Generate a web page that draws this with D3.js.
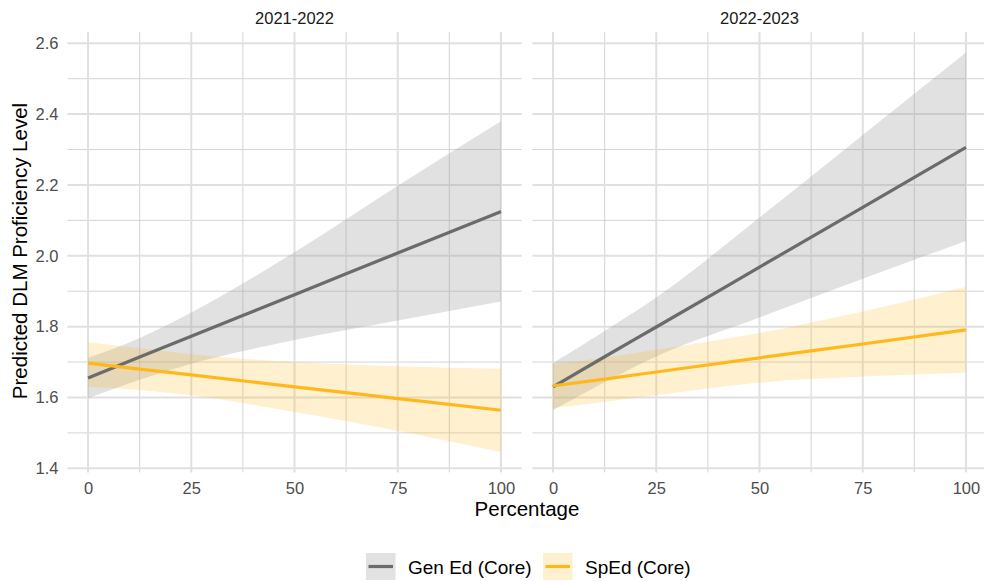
<!DOCTYPE html>
<html>
<head>
<meta charset="utf-8">
<script src="https://cdn.jsdelivr.net/npm/d3@7"></script>
<style>
  html, body { margin: 0; padding: 0; background: #ffffff; }
  svg { display: block; font-family: "Liberation Sans", Arial, Helvetica, sans-serif; }
</style>
</head>
<body>
<svg id="chart" width="984" height="581"></svg>
<script>
// ---------------- DATA ----------------
const panels = ["2021-2022", "2022-2023"];
const groups = ["Gen Ed (Core)", "SpEd (Core)"];
const xPoints = [0, 12.5, 25, 50, 75, 100];

// 2021-2022
const genFit21  = [1.655, 1.714, 1.773, 1.890, 2.008, 2.125];
const genLow21  = [1.598, 1.650, 1.695, 1.762, 1.817, 1.871];
const genHigh21 = [1.712, 1.768, 1.840, 2.010, 2.198, 2.380];
const spFit21   = [1.697, 1.680, 1.664, 1.630, 1.597, 1.564];
const spLow21   = [1.630, 1.621, 1.606, 1.559, 1.506, 1.446];
const spHigh21  = [1.756, 1.739, 1.722, 1.700, 1.688, 1.681];

// 2022-2023
const genFit22  = [1.630, 1.715, 1.799, 1.968, 2.137, 2.306];
const genLow22  = [1.565, 1.643, 1.716, 1.826, 1.935, 2.042];
const genHigh22 = [1.697, 1.788, 1.882, 2.108, 2.341, 2.574];
const spFit22   = [1.633, 1.652, 1.672, 1.712, 1.751, 1.791];
const spLow22   = [1.570, 1.588, 1.606, 1.642, 1.659, 1.670];
const spHigh22  = [1.694, 1.713, 1.735, 1.782, 1.843, 1.912];

const xTicks = [0, 25, 50, 75, 100];
const xMinor = [12.5, 37.5, 62.5, 87.5];
const yTicks = [1.4, 1.6, 1.8, 2.0, 2.2, 2.4, 2.6];
const yMinor = [1.5, 1.7, 1.9, 2.1, 2.3, 2.5];
const xTickLabels = ["0", "25", "50", "75", "100"];
const yTickLabels = ["1.4", "1.6", "1.8", "2.0", "2.2", "2.4", "2.6"];

// ---------------- STYLE ----------------
const lineColors = ["#6b6b6b", "#FFB81C"];
const ribbonColors = ["#999c99", "#FFB81C"];
const ribbonOpacity = [0.3, 0.21];
const keyFills = ["#e1e2e1", "#fff0cf"];

const svg = d3.select("#chart");

const panelData = [
  { title: panels[0], series: [
      { fit: genFit21, low: genLow21, high: genHigh21 },
      { fit: spFit21, low: spLow21, high: spHigh21 } ] },
  { title: panels[1], series: [
      { fit: genFit22, low: genLow22, high: genHigh22 },
      { fit: spFit22, low: spLow22, high: spHigh22 } ] }
];

const panelRanges = [[67.4, 521.6], [532.4, 986.6]];
const yTop = 32.1, yBottom = 472.4;
const y = d3.scaleLinear().domain([1.3885, 2.6315]).range([yBottom, yTop]);

panelData.forEach((p, pi) => {
  const x = d3.scaleLinear().domain([-5, 105]).range(panelRanges[pi]);
  const g = svg.append("g");
  const [x0, x1] = panelRanges[pi];

  // minor grid
  g.selectAll(".ymin").data(yMinor).join("line")
    .attr("x1", x0).attr("x2", x1)
    .attr("y1", d => y(d)).attr("y2", d => y(d))
    .attr("stroke", "#cfcfcf").attr("stroke-width", 0.9);
  g.selectAll(".xmin").data(xMinor).join("line")
    .attr("x1", d => x(d)).attr("x2", d => x(d))
    .attr("y1", yTop).attr("y2", yBottom)
    .attr("stroke", "#cfcfcf").attr("stroke-width", 0.9);
  // major grid
  g.selectAll(".ymaj").data(yTicks).join("line")
    .attr("x1", x0).attr("x2", x1)
    .attr("y1", d => y(d)).attr("y2", d => y(d))
    .attr("stroke", "#e0e0e0").attr("stroke-width", 2);
  g.selectAll(".xmaj").data(xTicks).join("line")
    .attr("x1", d => x(d)).attr("x2", d => x(d))
    .attr("y1", yTop).attr("y2", yBottom)
    .attr("stroke", "#e0e0e0").attr("stroke-width", 2);

  // ribbons
  p.series.forEach((s, si) => {
    const pts = xPoints.map((xv, i) => ({ x: xv, lo: s.low[i], hi: s.high[i] }));
    const area = d3.area().curve(d3.curveMonotoneX)
      .x(d => x(d.x)).y0(d => y(d.lo)).y1(d => y(d.hi));
    g.append("path").datum(pts).attr("d", area)
      .attr("fill", ribbonColors[si]).attr("fill-opacity", ribbonOpacity[si]);
  });
  // lines
  p.series.forEach((s, si) => {
    const pts = xPoints.map((xv, i) => ({ x: xv, v: s.fit[i] }));
    const line = d3.line().curve(d3.curveMonotoneX)
      .x(d => x(d.x)).y(d => y(d.v));
    g.append("path").datum(pts).attr("d", line)
      .attr("fill", "none").attr("stroke", lineColors[si]).attr("stroke-width", 3.2);
  });

  // x axis labels
  const xAxis = d3.axisBottom(x).tickValues(xTicks)
    .tickFormat((d, i) => xTickLabels[i]).tickSize(0).tickPadding(0);
  const xa = svg.append("g").attr("transform", `translate(0, 494)`).call(xAxis);
  xa.select(".domain").remove();
  xa.selectAll("text").attr("font-size", 16.5).attr("fill", "#4d4d4d")
    .attr("font-family", "'Liberation Sans', Arial, sans-serif").attr("dy", 0);

  // strip title
  svg.append("text").attr("x", (x0 + x1) / 2).attr("y", 24)
    .attr("text-anchor", "middle").attr("font-size", 16.5).attr("fill", "#1a1a1a")
    .text(p.title);
});

// y axis labels (left only)
const yAxis = d3.axisLeft(y).tickValues(yTicks)
  .tickFormat((d, i) => yTickLabels[i]).tickSize(0).tickPadding(0);
const ya = svg.append("g").attr("transform", "translate(58.5,0)").call(yAxis);
ya.select(".domain").remove();
ya.selectAll("text").attr("font-size", 16.5).attr("fill", "#4d4d4d")
  .attr("font-family", "'Liberation Sans', Arial, sans-serif");

// axis titles
svg.append("text").attr("x", 527).attr("y", 516).attr("text-anchor", "middle")
  .attr("font-size", 20.5).attr("fill", "#000").text("Percentage");
svg.append("text").attr("transform", "translate(26.5,251) rotate(-90)")
  .attr("text-anchor", "middle").attr("font-size", 20.5).attr("fill", "#000")
  .text("Predicted DLM Proficiency Level");

// legend
const keyX = [366, 543];
const textX = [408, 585];
groups.forEach((name, i) => {
  svg.append("rect").attr("x", keyX[i]).attr("y", 553).attr("width", 29.5).attr("height", 27)
    .attr("fill", keyFills[i]);
  svg.append("line").attr("x1", keyX[i] + 2.5).attr("x2", keyX[i] + 27)
    .attr("y1", 566.5).attr("y2", 566.5)
    .attr("stroke", lineColors[i]).attr("stroke-width", 3.2);
  svg.append("text").attr("x", textX[i]).attr("y", 573.5)
    .attr("font-size", 19).attr("fill", "#000").text(name);
});
</script>
</body>
</html>
